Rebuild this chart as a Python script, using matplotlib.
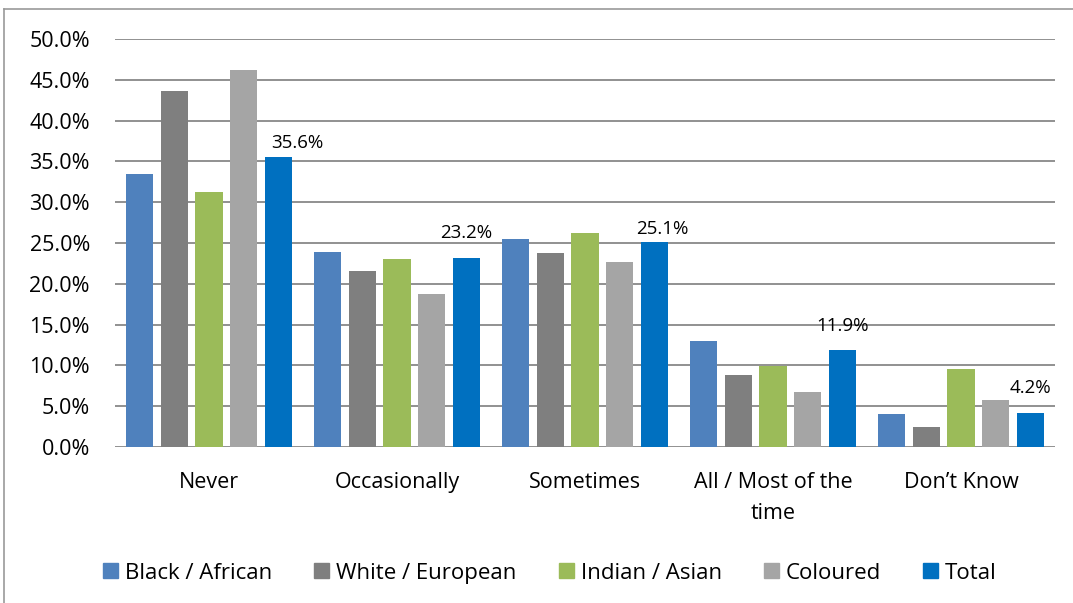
import numpy as np
import matplotlib.pyplot as plt
from matplotlib.lines import Line2D
from matplotlib.patches import Rectangle

plt.rcParams["font.family"] = ["Open Sans", "DejaVu Sans"]

categories = ["Never", "Occasionally", "Sometimes", "All / Most of the\ntime", "Don\u2019t Know"]
series = ["Black / African", "White / European", "Indian / Asian", "Coloured", "Total"]
black = [33.5, 23.9, 25.5, 13.0, 4.1]
white = [43.6, 21.6, 23.8, 8.8, 2.4]
indian = [31.3, 23.1, 26.2, 9.9, 9.5]
coloured = [46.2, 18.8, 22.7, 6.7, 5.8]
total = [35.6, 23.2, 25.1, 11.9, 4.2]
values = [black, white, indian, coloured, total]
colors = ["#4F81BD", "#7F7F7F", "#9BBB59", "#A5A5A5", "#0070C0"]

W, H = 1073, 603
fig = plt.figure(figsize=(W / 100, H / 100), dpi=100)
ax = fig.add_axes([115 / W, 1 - 447 / H, 940 / W, 408 / H])

# label nudges (points) as placed in the original chart
label_dx = [13.5, 0, 5.5, 0, 0]
label_dy = [9.5, 18, 9.5, 17.5, 17.5]

x = np.arange(len(categories))
step = 0.185
width = 0.145
for i, (name, vals, c) in enumerate(zip(series, values, colors)):
    bars = ax.bar(x + (i - 2) * step, vals, width=width, color=c, zorder=3)
    if name == "Total":
        for b, v, dx, dy in zip(bars, vals, label_dx, label_dy):
            ax.annotate(f"{v:.1f}%", (b.get_x() + b.get_width() / 2, v),
                        xytext=(dx, dy), textcoords="offset points",
                        ha="center", va="center", fontsize=13.5, zorder=4)

ax.set_xlim(-0.5, len(categories) - 0.5)
ax.set_ylim(0, 50)
ax.set_yticks(np.arange(0, 50.1, 5))
ax.set_yticklabels([f"{t:.1f}%" for t in np.arange(0, 50.1, 5)])
ax.set_xticks(x)
ax.set_xticklabels(categories, linespacing=1.6)
ax.tick_params(axis="both", length=0, labelsize=15.5)
ax.tick_params(axis="y", pad=18)
ax.tick_params(axis="x", pad=18)
ax.grid(axis="y", color="#888888", linewidth=1.3, zorder=0)
for s in ax.spines.values():
    s.set_visible(False)

# legend laid out by hand so all labels share one baseline
renderer = fig.canvas.get_renderer()
sq, gap_in, gap_out = 15, 7, 42
base_y = 579
texts = [fig.text(0, 1 - base_y / H, s, fontsize=16, va="baseline", ha="left") for s in series]
widths = [t.get_window_extent(renderer).width for t in texts]
total_w = sum(sq + gap_in + w for w in widths) + gap_out * (len(series) - 1)
xp = 550 - total_w / 2
for t, w, c in zip(texts, widths, colors):
    fig.add_artist(Rectangle((xp / W, 1 - 578 / H), sq / W, sq / H,
                             transform=fig.transFigure, color=c))
    t.set_x((xp + sq + gap_in) / W)
    xp += sq + gap_in + w + gap_out

# outer chart border (top and left visible)
fig.add_artist(Line2D([4 / W, 1], [1 - 9 / H, 1 - 9 / H], color="#999999", linewidth=1.2))
fig.add_artist(Line2D([4 / W, 4 / W], [0, 1 - 9 / H], color="#999999", linewidth=1.2))

fig.savefig("out.png", dpi=100)
